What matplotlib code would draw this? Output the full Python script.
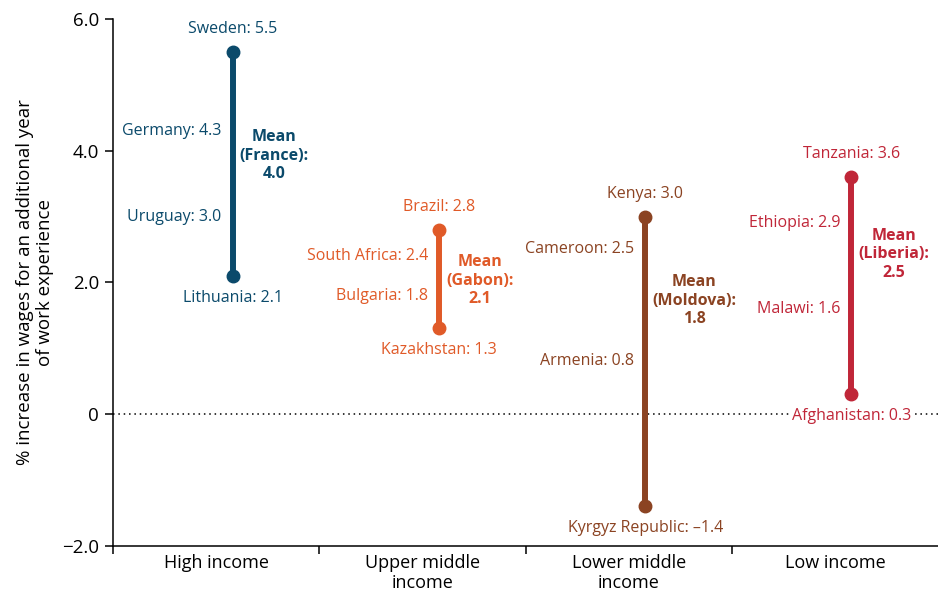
"""
Returns to work experience by country income group
"""
import numpy as np
import matplotlib
matplotlib.use('Agg')
import matplotlib.pyplot as plt

plt.rcParams['font.family'] = ['Open Sans', 'DejaVu Sans']

groups = ['High income', 'Upper middle\nincome', 'Lower middle\nincome', 'Low income']
colors = ['#0b4a6b', '#e05a28', '#8b4322', '#c02638']

# range endpoints for each group
top_names = ['Sweden', 'Brazil', 'Kenya', 'Tanzania']
top_vals = [5.5, 2.8, 3.0, 3.6]
bottom_names = ['Lithuania', 'Kazakhstan', 'Kyrgyz Republic', 'Afghanistan']
bottom_vals = [2.1, 1.3, -1.4, 0.3]

# countries labelled along the range
mid_names = [['Germany', 'Uruguay'], ['South Africa', 'Bulgaria'],
             ['Cameroon', 'Armenia'], ['Ethiopia', 'Malawi']]
mid_vals = [[4.3, 3.0], [2.4, 1.8], [2.5, 0.8], [2.9, 1.6]]

mean_names = ['France', 'Gabon', 'Moldova', 'Liberia']
mean_vals = [4.0, 2.1, 1.8, 2.5]


def fmt(v):
    # en dash for negatives, as in the source publication
    return f'{v:.1f}'.replace('-', '\u2013')


fig = plt.figure(figsize=(9.38, 5.91), dpi=100)
ax = fig.add_axes([0.1205, 0.0766, 0.8795, 0.8912])

fs = 11.5
xs = np.arange(len(groups)) + 0.08
for i, x in enumerate(xs):
    c = colors[i]
    ax.plot([x, x], [bottom_vals[i], top_vals[i]], color=c, lw=4.3,
            solid_capstyle='butt', zorder=3)
    ax.plot([x, x], [bottom_vals[i], top_vals[i]], 'o', color=c, ms=9, zorder=4)

    ax.annotate(f'{top_names[i]}: {fmt(top_vals[i])}', (x, top_vals[i]),
                xytext=(0, 23), textcoords='offset pixels',
                ha='center', va='center', color=c, fontsize=fs)
    bbox = dict(facecolor='white', edgecolor='none', pad=1) if i == 3 else None
    ax.annotate(f'{bottom_names[i]}: {fmt(bottom_vals[i])}', (x, bottom_vals[i]),
                xytext=(0, -22), textcoords='offset pixels',
                ha='center', va='center', color=c, fontsize=fs, bbox=bbox, zorder=5)

    for name, v in zip(mid_names[i], mid_vals[i]):
        ax.annotate(f'{name}: {fmt(v)}', (x, v), xytext=(-11, 0),
                    textcoords='offset pixels', ha='right', va='center',
                    color=c, fontsize=fs)

    ax.annotate(f'Mean\n({mean_names[i]}):\n{fmt(mean_vals[i])}', (x, mean_vals[i]),
                xytext=(7, -5), textcoords='offset pixels', ha='left', va='center',
                multialignment='center', color=c, fontsize=fs, fontweight='bold',
                linespacing=1.2)

# zero reference line
ax.axhline(0, color='black', lw=1.1, ls=(0, (1, 2.5)), zorder=1)

ax.set_xlim(-0.5, 3.5)
ax.set_ylim(-2, 6)
ax.set_yticks([-2, 0, 2, 4, 6])
ax.set_yticklabels(['\u22122.0', '0', '2.0', '4.0', '6.0'])
ax.set_xticks([-0.5, 0.5, 1.5, 2.5])
ax.set_xticklabels([])
ax.set_xticks(np.arange(len(groups)), minor=True)
ax.set_xticklabels(groups, minor=True, fontsize=13, linespacing=1.15)
ax.tick_params(axis='x', which='minor', length=0, pad=6)
ax.tick_params(axis='x', which='major', length=6, width=1.1)
ax.tick_params(axis='y', length=6, width=1.1, labelsize=13.5, pad=4)

for s in ['top', 'right']:
    ax.spines[s].set_visible(False)
for s in ['left', 'bottom']:
    ax.spines[s].set_linewidth(1.1)

ax.set_ylabel('% increase in wages for an additional year\nof work experience',
              fontsize=13.5, labelpad=6, linespacing=1.1)

fig.savefig('out.png', dpi=100)
